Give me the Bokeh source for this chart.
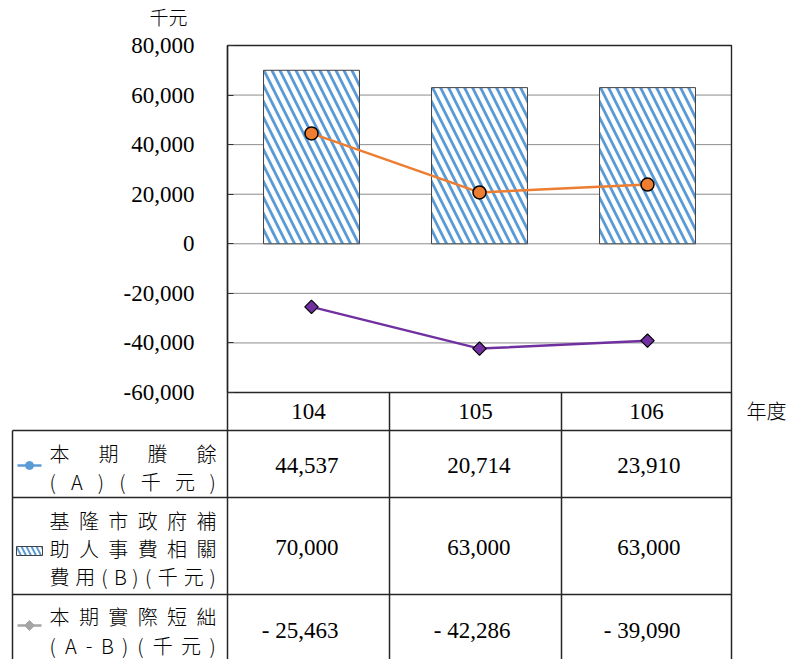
from bokeh.plotting import figure
from bokeh.models import Range1d, FixedTicker, NumeralTickFormatter, LinearAxis
from bokeh.core.properties import value
from bokeh.embed import file_html
from bokeh.resources import INLINE
import numpy as np

# ---------------- data ----------------
years = ["104", "105", "106"]
surplus = [44537, 20714, 23910]          # 本期賸餘(A)(千元)
subsidy = [70000, 63000, 63000]          # 基隆市政府補助人事費相關費用(B)(千元)
shortfall = [-25463, -42286, -39090]     # 本期實際短絀(A-B)(千元)
y_ticks = [-60000, -40000, -20000, 0, 20000, 40000, 60000, 80000]
series_lines = [
    ["本期賸餘", "(A)(千元)"],
    ["基隆市政府補", "助人事費相關", "費用(B)(千元)"],
    ["本期實際短絀", "(A-B)(千元)"],
]
unit_label = "千元"
x_title = "年度"

NUM_FONT = "Liberation Serif, DejaVu Serif, serif"
CJK_FONT = "Noto Sans CJK TC Light, Noto Sans CJK TC"
BLUE = "#5B9BD5"
ORANGE = "#ED7D31"
PURPLE = "#7030A0"
GRAY = "#A5A5A5"
EDGE = "#262626"

# ---------------- geometry (pixels) ----------------
W, H = 795, 659
F_LEFT, F_RIGHT, F_TOP, F_BOTTOM = 227, 731, 45, 392      # plot area
col_edges = [227, 389, 561, 731]                          # table column borders
table_left = 12
row_edges = [430, 497, 594]

Y_MIN, Y_MAX = y_ticks[0], y_ticks[-1]
n = len(years)
px_per_cat = (F_RIGHT - F_LEFT) / n
val_per_px = (Y_MAX - Y_MIN) / (F_BOTTOM - F_TOP)

# one canvas; the chart's ranges are chosen so that its plot area lands on F_*
x_range = Range1d(-F_LEFT / px_per_cat, (W - F_LEFT) / px_per_cat)
y_range = Range1d(Y_MIN - (H - F_BOTTOM) * val_per_px, Y_MAX + F_TOP * val_per_px)

p = figure(width=W, height=H, x_range=x_range, y_range=y_range,
           x_axis_type=None, y_axis_type=None, output_backend="svg",
           toolbar_location=None, title=None, min_border=0)
p.grid.visible = False
p.outline_line_color = None
p.background_fill_color = "white"
p.border_fill_color = "white"
# pixel-like coordinates for the data table under the chart
p.extra_x_ranges = {"px": Range1d(0, W)}
p.extra_y_ranges = {"px": Range1d(H, 0)}
PX = dict(x_range_name="px", y_range_name="px")

xpos = np.arange(n) + 0.5        # category centres; category i spans [i, i+1]

# gridlines
p.segment(x0=[0] * len(y_ticks), x1=[n] * len(y_ticks), y0=y_ticks, y1=y_ticks,
          line_color="#8c8c8c", line_width=1)

# y axis at the left edge of the plot area
ya = LinearAxis(ticker=FixedTicker(ticks=y_ticks), formatter=NumeralTickFormatter(format="0,0"),
                fixed_location=0, bounds=(Y_MIN, Y_MAX))
ya.major_label_text_font = NUM_FONT
ya.major_label_text_font_size = "23px"
ya.major_label_text_font_style = "normal"
ya.major_label_text_color = "black"
ya.major_tick_in = 6
ya.major_tick_out = 0
ya.minor_tick_in = 0
ya.minor_tick_out = 0
ya.major_tick_line_color = "#333333"
ya.axis_line_color = "#222222"
ya.axis_line_width = 1.4
ya.major_label_standoff = 33
p.add_layout(ya, "left")

# bars
p.vbar(x=xpos, top=subsidy, bottom=0, width=0.571,
       fill_color="white", line_color="#404040", line_width=1,
       hatch_pattern="left_diagonal_line", hatch_color=BLUE,
       hatch_weight=2.8, hatch_scale=16)

# lines
p.line(xpos, surplus, line_color=ORANGE, line_width=2.5)
p.scatter(xpos, surplus, marker="circle", size=13, fill_color=ORANGE,
          line_color="black", line_width=1.5)
p.line(xpos, shortfall, line_color=PURPLE, line_width=2.5)
p.scatter(xpos, shortfall, marker="square", angle=np.pi / 4, size=9.5,
          fill_color=PURPLE, line_color="black", line_width=1.2)

# plot-area border
p.quad(left=[0], right=[n], bottom=[Y_MIN], top=[Y_MAX], fill_color=None,
       line_color="#262626", line_width=1.4)

# unit label
p.text(x=[168], y=[16], text=[unit_label], text_font=value(CJK_FONT), text_font_size="19px",
       text_align="center", text_baseline="middle", text_color="black", **PX)

# ---------------- data table ----------------
bottom = H + 5
p.segment(x0=[table_left] * len(row_edges), y0=row_edges,
          x1=[col_edges[-1]] * len(row_edges), y1=row_edges,
          line_color=EDGE, line_width=1.5, **PX)
vx = [table_left] + col_edges
vy0 = [row_edges[0]] + [F_BOTTOM] * len(col_edges)
p.segment(x0=vx, y0=vy0, x1=vx, y1=[bottom] * len(vx), line_color=EDGE, line_width=1.5, **PX)

centers = [(col_edges[i] + col_edges[i + 1]) / 2 for i in range(n)]
p.text(x=centers, y=[411] * n, text=years, text_font=value(NUM_FONT),
       text_font_size="23px", text_align="center", text_baseline="middle",
       text_color="black", **PX)
p.text(x=[766], y=[410], text=[x_title], text_font=value(CJK_FONT), text_font_size="20px",
       text_align="center", text_baseline="middle", text_color="black", **PX)


def fmt(v):
    return f"{v:,}" if v >= 0 else f"- {abs(v):,}"


row_y = [465, 547, 630]
for series, yy in zip([surplus, subsidy, shortfall], row_y):
    xs = [col_edges[i + 1] - 51 for i in range(len(series))]
    p.text(x=xs, y=[yy] * len(series), text=[fmt(v) for v in series],
           text_font=value(NUM_FONT), text_font_size="23px", text_align="right",
           text_baseline="middle", text_color="black", **PX)


# legend labels, justified character by character
def char_w(c, fs):
    if ord(c) > 0x2E80:
        return fs
    if c in "()-":
        return fs * 0.35
    return fs * 0.62


FS = 20
line_ys = [[453, 481], [520, 548, 576], [616, 645]]
for lines, ys in zip(series_lines, line_ys):
    for line, yy in zip(lines, ys):
        ws = [char_w(c, FS) for c in line]
        x0, x1 = 49, 216
        gap = (x1 - x0 - sum(ws)) / (len(line) - 1)
        xs = []
        x = x0
        for w in ws:
            xs.append(x)
            x += w + gap
        p.text(x=xs, y=[yy] * len(line), text=list(line), text_font=value(CJK_FONT),
               text_font_size=f"{FS}px", text_align="left", text_baseline="middle",
               text_color="black", **PX)

# legend keys
p.line(x=[17, 41], y=[465, 465], line_color=BLUE, line_width=2.5, **PX)
p.scatter(x=[29], y=[465], marker="circle", size=8, fill_color=BLUE, line_color=BLUE, **PX)
p.quad(left=[16], right=[42], top=[546], bottom=[555], fill_color="white",
       line_color="#404040", line_width=1, hatch_pattern="left_diagonal_line",
       hatch_color=BLUE, hatch_weight=2, hatch_scale=10, **PX)
p.line(x=[17, 41], y=[625, 625], line_color=GRAY, line_width=2.5, **PX)
p.scatter(x=[29], y=[625], marker="square", angle=np.pi / 4, size=7,
          fill_color=GRAY, line_color=GRAY, **PX)

open("out.html", "w").write(file_html(p, INLINE))
